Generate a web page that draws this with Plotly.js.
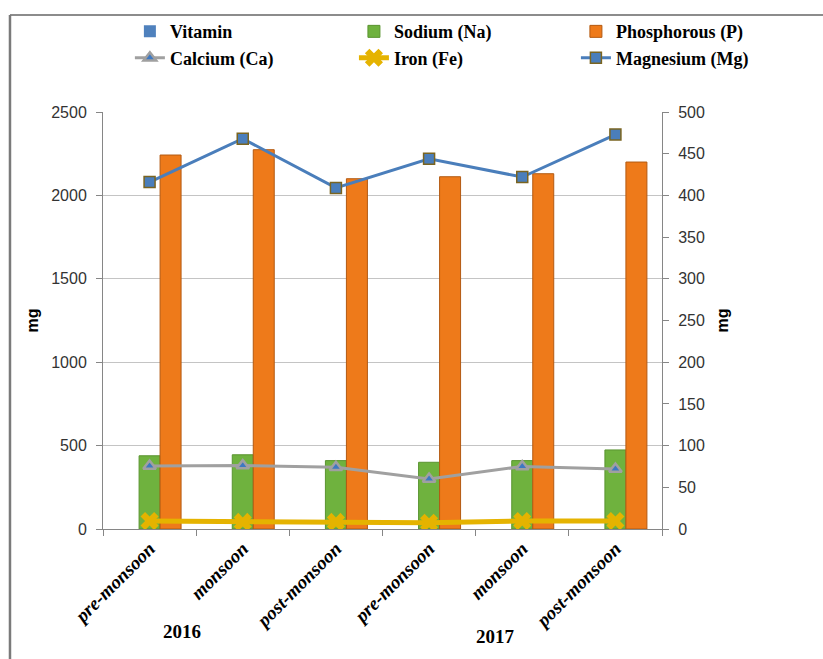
<!DOCTYPE html>
<html><head><meta charset="utf-8">
<script src="https://cdn.plot.ly/plotly-3.0.1.min.js"></script>
<style>html,body{margin:0;padding:0;background:#fff}</style>
</head><body><div id="chart" style="width:823px;height:659px"></div>
<script>
const years = ["2016", "2017"];
const seasons = ["pre-monsoon", "monsoon", "post-monsoon"];
const vitamin = [0, 0, 0, 0, 0, 0];
const sodium = [439, 445, 410, 400, 410, 474];
const phosphorous = [2242, 2274, 2100, 2112, 2130, 2200];
const calcium = [75.5, 76, 74, 60, 75, 72];
const iron = [9.5, 8.5, 8.5, 7.5, 9.5, 9.5];
const magnesium = [416, 468, 409, 444, 422, 473];
const leftTicks = [0, 500, 1000, 1500, 2000, 2500];
const rightTicks = [0, 50, 100, 150, 200, 250, 300, 350, 400, 450, 500];

const categories = years.flatMap(y => seasons.map(s => y + " " + s));
const tickText = years.flatMap(() => seasons);

const axisGray = '#868686';
const tickFont = {family: 'Liberation Sans', size: 16, color: '#333333'};
const legendFont = {family: 'Liberation Serif', size: 18, weight: 'bold', color: '#000000'};

const traces = [
  {type: 'bar', name: 'Vitamin', x: categories, y: vitamin, legend: 'legend',
   marker: {color: '#4f81bd', line: {width: 0}}},
  {type: 'bar', name: 'Sodium (Na)', x: categories, y: sodium, legend: 'legend2',
   marker: {color: '#6fb23e', line: {color: '#5a9430', width: 1}}},
  {type: 'bar', name: 'Phosphorous (P)', x: categories, y: phosphorous, legend: 'legend3',
   marker: {color: '#ee7a1a', line: {color: '#b35a12', width: 1}}},
  {type: 'scatter', mode: 'lines+markers', name: 'Calcium (Ca)', x: categories, y: calcium, yaxis: 'y2', legend: 'legend',
   line: {color: '#a0a0a0', width: 3},
   marker: {symbol: 'triangle-up', size: 11, color: '#3d78c2', line: {color: '#a0a0a0', width: 2.5}}},
  {type: 'scatter', mode: 'lines+markers', name: 'Iron (Fe)', x: categories, y: iron, yaxis: 'y2', legend: 'legend2',
   line: {color: '#e5b300', width: 5},
   marker: {symbol: 'x', size: 16, color: '#e5b300'}},
  {type: 'scatter', mode: 'lines+markers', name: 'Magnesium (Mg)', x: categories, y: magnesium, yaxis: 'y2', legend: 'legend3',
   line: {color: '#4a7ebb', width: 3},
   marker: {symbol: 'square', size: 11, color: '#4a7ebb', line: {color: '#7a6420', width: 1.5}}}
];

function legendAt(x) {
  return {orientation: 'v', x: x, xanchor: 'left', y: 1.237, yanchor: 'top',
          traceorder: 'normal', font: legendFont, bgcolor: 'rgba(0,0,0,0)', borderwidth: 0};
}

const layout = {
  width: 823, height: 659,
  margin: {l: 103, r: 161, t: 112, b: 130},
  paper_bgcolor: '#ffffff', plot_bgcolor: '#ffffff',
  barmode: 'group', bargap: 0.324, bargroupgap: 0,
  showlegend: true,
  legend: legendAt(0.0481),
  legend2: legendAt(0.4489),
  legend3: legendAt(0.846),
  xaxis: {
    type: 'category', categoryorder: 'array', categoryarray: categories,
    tickmode: 'array', tickvals: categories, ticktext: tickText,
    tickson: 'boundaries', ticks: 'outside', ticklen: 6, tickcolor: axisGray,
    showline: true, linecolor: axisGray, linewidth: 1, showgrid: false, zeroline: false,
    tickangle: -45,
    tickfont: {family: 'Liberation Serif', size: 19, weight: 'bold', style: 'italic', color: '#000000'},
    range: [-0.5, 5.5]
  },
  yaxis: {
    range: [0, 2500], tickmode: 'array', tickvals: leftTicks,
    showgrid: true, gridcolor: '#c4c4c4', gridwidth: 1,
    showline: true, linecolor: axisGray, ticks: 'outside', ticklen: 6, tickcolor: axisGray,
    zeroline: false, tickfont: tickFont, ticklabelstandoff: 6,
    title: {text: 'mg', font: {family: 'Liberation Sans', size: 16, weight: 'bold', color: '#000000'}, standoff: 8}
  },
  yaxis2: {
    overlaying: 'y', side: 'right', range: [0, 500], tickmode: 'array', tickvals: rightTicks,
    showgrid: false, showline: true, linecolor: axisGray, ticks: 'outside', ticklen: 6, tickcolor: axisGray,
    zeroline: false, tickfont: tickFont, ticklabelstandoff: 6,
    title: {text: 'mg', font: {family: 'Liberation Sans', size: 16, weight: 'bold', color: '#000000'}, standoff: 12}
  },
  annotations: [
    {text: years[0], xref: 'paper', yref: 'paper', x: 0.1413, y: -0.245, xanchor: 'center', yanchor: 'middle',
     showarrow: false, font: {family: 'Liberation Serif', size: 19, weight: 'bold', color: '#000000'}},
    {text: years[1], xref: 'paper', yref: 'paper', x: 0.703, y: -0.258, xanchor: 'center', yanchor: 'middle',
     showarrow: false, font: {family: 'Liberation Serif', size: 19, weight: 'bold', color: '#000000'}}
  ],
  shapes: [
    {type: 'line', xref: 'paper', yref: 'paper', x0: -0.1664, x1: 1.3, y0: 1.2326, y1: 1.2326,
     line: {color: '#8c8c8c', width: 2}},
    {type: 'line', xref: 'paper', yref: 'paper', x0: -0.1664, x1: -0.1664, y0: 1.2326, y1: -0.35,
     line: {color: '#7a7a7a', width: 2.5}}
  ]
};

Plotly.newPlot('chart', traces, layout, {displayModeBar: false, staticPlot: true});
</script>
</body></html>
